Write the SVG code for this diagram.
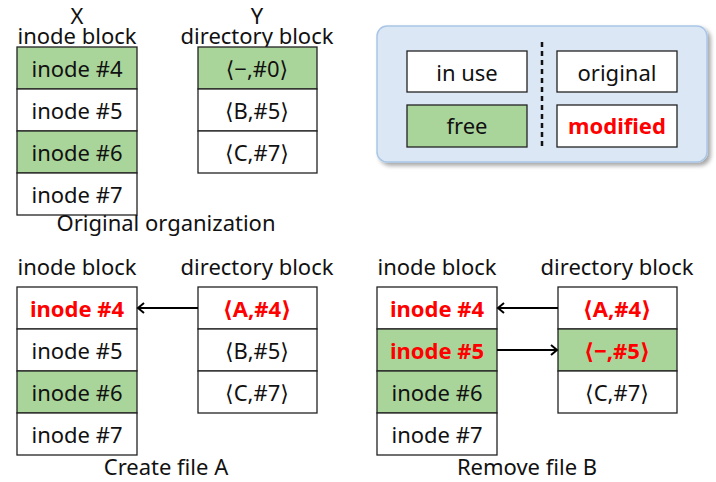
<svg xmlns="http://www.w3.org/2000/svg" width="716" height="482" viewBox="0 0 716 482">
<style>
text{font-family:"Noto Sans","DejaVu Sans",sans-serif;font-size:22px;fill:#111;text-anchor:middle}
.c{fill:#fff;stroke:#222;stroke-width:1.3}
.g{fill:#a9d59a;stroke:#222;stroke-width:1.3}
.m{fill:#ff0000;font-weight:bold}
.ar{stroke:#000;stroke-width:2;fill:none}
</style>
<defs>
<marker id="ah" markerWidth="12" markerHeight="12" refX="10" refY="6" orient="auto" markerUnits="userSpaceOnUse">
<path d="M4,1 L10,6 L4,11" fill="none" stroke="#000" stroke-width="2"/>
</marker>
<filter id="sh" x="-10%" y="-10%" width="130%" height="140%">
<feDropShadow dx="3" dy="3" stdDeviation="2" flood-color="#000" flood-opacity="0.35"/>
</filter>
</defs>

<!-- Original organization -->
<g id="orig-inode">
<text x="77" y="24">X</text>
<text x="77" y="44">inode block</text>
<rect class="g" x="17" y="47" width="120" height="42"/><text x="77" y="77">inode #4</text>
<rect class="c" x="17" y="89" width="120" height="42"/><text x="77" y="119">inode #5</text>
<rect class="g" x="17" y="131" width="120" height="42"/><text x="77" y="161">inode #6</text>
<rect class="c" x="17" y="173" width="120" height="42"/><text x="77" y="203">inode #7</text>
</g>
<g id="orig-dir">
<text x="257" y="24">Y</text>
<text x="257" y="44">directory block</text>
<rect class="g" x="198" y="47" width="119" height="42"/><text x="257" y="77">⟨−,#0⟩</text>
<rect class="c" x="198" y="89" width="119" height="42"/><text x="257" y="119">⟨B,#5⟩</text>
<rect class="c" x="198" y="131" width="119" height="42"/><text x="257" y="161">⟨C,#7⟩</text>
</g>
<text x="166" y="231">Original organization</text>

<!-- Legend -->
<g id="legend">
<rect x="377" y="26" width="330" height="136" rx="10" fill="#dbe7f4" stroke="#a9c6e6" stroke-width="1.5" filter="url(#sh)"/>
<rect class="c" x="407" y="51" width="120" height="41"/><text x="467" y="81">in use</text>
<rect class="g" x="407" y="105" width="120" height="42"/><text x="467" y="134">free</text>
<line x1="542" y1="42" x2="542" y2="147" stroke="#111" stroke-width="2.5" stroke-dasharray="5,4"/>
<rect class="c" x="557" y="51" width="120" height="41"/><text x="617" y="81">original</text>
<rect class="c" x="557" y="105" width="120" height="42"/><text class="m" x="617" y="134">modified</text>
</g>

<!-- Create file A -->
<g id="a-inode">
<text x="77" y="275">inode block</text>
<rect class="c" x="17" y="287" width="120" height="42"/><text class="m" x="77" y="317">inode #4</text>
<rect class="c" x="17" y="329" width="120" height="42"/><text x="77" y="359">inode #5</text>
<rect class="g" x="17" y="371" width="120" height="42"/><text x="77" y="401">inode #6</text>
<rect class="c" x="17" y="413" width="120" height="42"/><text x="77" y="443">inode #7</text>
</g>
<g id="a-dir">
<text x="257" y="275">directory block</text>
<rect class="c" x="198" y="287" width="119" height="42"/><text class="m" x="257" y="317">⟨A,#4⟩</text>
<rect class="c" x="198" y="329" width="119" height="42"/><text x="257" y="359">⟨B,#5⟩</text>
<rect class="c" x="198" y="371" width="119" height="42"/><text x="257" y="401">⟨C,#7⟩</text>
</g>
<text x="166" y="475">Create file A</text>

<!-- Remove file B -->
<g id="b-inode">
<text x="437" y="275">inode block</text>
<rect class="c" x="377" y="287" width="120" height="42"/><text class="m" x="437" y="317">inode #4</text>
<rect class="g" x="377" y="329" width="120" height="42"/><text class="m" x="437" y="359">inode #5</text>
<rect class="g" x="377" y="371" width="120" height="42"/><text x="437" y="401">inode #6</text>
<rect class="c" x="377" y="413" width="120" height="42"/><text x="437" y="443">inode #7</text>
</g>
<g id="b-dir">
<text x="617" y="275">directory block</text>
<rect class="c" x="558" y="287" width="119" height="42"/><text class="m" x="617" y="317">⟨A,#4⟩</text>
<rect class="g" x="558" y="329" width="119" height="42"/><text class="m" x="617" y="359">⟨−,#5⟩</text>
<rect class="c" x="558" y="371" width="119" height="42"/><text x="617" y="401">⟨C,#7⟩</text>
</g>
<text x="527" y="475">Remove file B</text>

<g id="connectors">
<line class="ar" x1="198" y1="308" x2="138" y2="308" marker-end="url(#ah)"/>
<line class="ar" x1="558" y1="308" x2="498" y2="308" marker-end="url(#ah)"/>
<line class="ar" x1="497" y1="350" x2="557" y2="350" marker-end="url(#ah)"/>
</g>
</svg>
